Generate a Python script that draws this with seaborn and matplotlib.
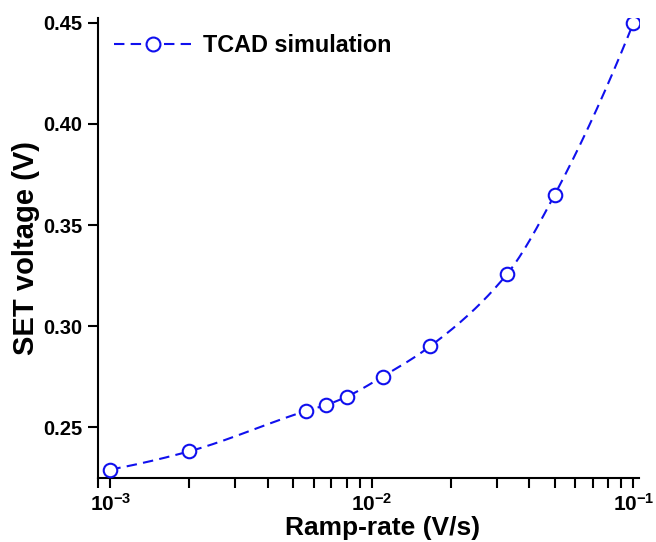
import numpy as np
import pandas as pd
import matplotlib
matplotlib.use("Agg")
import matplotlib.pyplot as plt
import seaborn as sns
from matplotlib.lines import Line2D
from matplotlib.ticker import FixedLocator, LogLocator, NullFormatter

# Simulated SET voltage versus voltage ramp rate
ramp_rate = [1.0e-3, 2.0e-3, 5.6e-3, 6.7e-3, 8.0e-3, 1.1e-2, 1.67e-2, 3.3e-2, 5.0e-2, 1.0e-1]
set_voltage = [0.229, 0.238, 0.258, 0.261, 0.265, 0.275, 0.290, 0.326, 0.365, 0.450]
series_label = "TCAD simulation"
x_tick_values = [1e-3, 1e-2, 1e-1]
x_tick_labels = [r"$10^{-3}$", r"$10^{-2}$", r"$10^{-1}$"]
y_tick_values = [0.25, 0.30, 0.35, 0.40, 0.45]
y_tick_labels = ["0.25", "0.30", "0.35", "0.40", "0.45"]

sns.set_theme(style="ticks")
plt.rcParams["font.family"] = ["Liberation Sans", "DejaVu Sans"]
plt.rcParams["font.weight"] = "bold"
plt.rcParams["text.color"] = "black"
plt.rcParams["axes.labelcolor"] = "black"
plt.rcParams["mathtext.fontset"] = "custom"
plt.rcParams["mathtext.rm"] = "Liberation Sans:bold"
plt.rcParams["mathtext.it"] = "Liberation Sans:bold"
plt.rcParams["mathtext.bf"] = "Liberation Sans:bold"

COLOR = "#1010ee"


def pchip(xk, yk, xq):
    """Monotone piecewise-cubic curve through the given points."""
    xk = np.asarray(xk, float)
    yk = np.asarray(yk, float)
    h = np.diff(xk)
    d = np.diff(yk) / h
    n = len(xk)
    m = np.zeros(n)
    for i in range(1, n - 1):
        if d[i - 1] * d[i] > 0:
            w1 = 2 * h[i] + h[i - 1]
            w2 = h[i] + 2 * h[i - 1]
            m[i] = (w1 + w2) / (w1 / d[i - 1] + w2 / d[i])
    m[0] = ((2 * h[0] + h[1]) * d[0] - h[0] * d[1]) / (h[0] + h[1])
    if m[0] * d[0] <= 0:
        m[0] = 0
    m[-1] = ((2 * h[-1] + h[-2]) * d[-1] - h[-1] * d[-2]) / (h[-1] + h[-2])
    if m[-1] * d[-1] <= 0:
        m[-1] = 0
    idx = np.clip(np.searchsorted(xk, xq) - 1, 0, n - 2)
    t = (xq - xk[idx]) / h[idx]
    h00 = 2 * t**3 - 3 * t**2 + 1
    h10 = t**3 - 2 * t**2 + t
    h01 = -2 * t**3 + 3 * t**2
    h11 = t**3 - t**2
    return (h00 * yk[idx] + h10 * h[idx] * m[idx]
            + h01 * yk[idx + 1] + h11 * h[idx] * m[idx + 1])


lx = np.log10(ramp_rate)
lx_fine = np.linspace(lx[0], lx[-1], 400)
curve = pd.DataFrame({"x": 10 ** lx_fine, "y": pchip(lx, set_voltage, lx_fine)})
points = pd.DataFrame({"x": ramp_rate, "y": set_voltage})

fig = plt.figure(figsize=(6.56, 5.42), dpi=100)
ax = fig.add_axes([0.149, 0.118, 0.825, 0.849])

sns.lineplot(data=curve, x="x", y="y", ax=ax, color=COLOR, lw=1.5,
             linestyle=(0, (5, 3)), legend=False)
sns.scatterplot(data=points, x="x", y="y", ax=ax, marker="o", s=95,
                facecolor="white", edgecolor=COLOR, linewidth=1.5,
                zorder=3, legend=False)

ax.set_xscale("log")
ax.set_xlim(8.95e-4, 0.105)
ax.set_ylim(0.2248, 0.4525)
ax.xaxis.set_major_locator(FixedLocator(x_tick_values))
ax.set_xticklabels(x_tick_labels)
ax.xaxis.set_minor_locator(LogLocator(base=10, subs=np.arange(2, 10)))
ax.xaxis.set_minor_formatter(NullFormatter())
ax.set_yticks(y_tick_values)
ax.set_yticklabels(y_tick_labels)

for s in ("top", "right"):
    ax.spines[s].set_visible(False)
for s in ("left", "bottom"):
    ax.spines[s].set_linewidth(1.5)
    ax.spines[s].set_color("black")

ax.tick_params(axis="both", which="both", direction="out", width=1.5,
               color="black", labelcolor="black")
ax.tick_params(axis="y", which="major", length=7, pad=4, labelsize=14.5)
ax.tick_params(axis="x", which="major", length=7, pad=4, labelsize=15)
ax.tick_params(axis="x", which="minor", length=7)
for lab in ax.get_xticklabels() + ax.get_yticklabels():
    lab.set_fontweight("bold")

ax.set_xlabel("Ramp-rate (V/s)", fontsize=19, fontweight="bold")
ax.xaxis.set_label_coords(0.527, -0.083)
ax.set_ylabel("SET voltage (V)", fontsize=21, fontweight="bold", labelpad=2)

handle = Line2D([], [], color=COLOR, lw=1.5, linestyle=(0, (5, 3)),
                marker="o", markersize=10, markerfacecolor="white",
                markeredgecolor=COLOR, markeredgewidth=1.5)
leg = ax.legend([handle], [series_label], loc="upper left", frameon=False,
                handlelength=3.3, handletextpad=0.5,
                bbox_to_anchor=(0.0, 1.0), borderaxespad=0.3,
                prop={"size": 16.8, "weight": "bold"})

fig.savefig("out.png", dpi=100, facecolor="white")
